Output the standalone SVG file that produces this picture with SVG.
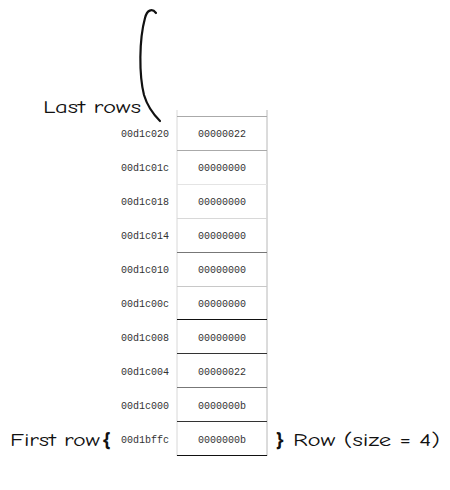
<svg xmlns="http://www.w3.org/2000/svg" width="450" height="490" viewBox="0 0 450 490">
<style>
.addr{font-family:"Liberation Mono","Courier New",monospace;font-size:10px;fill:#333;text-anchor:end}
.val{font-family:"Liberation Mono","Courier New",monospace;font-size:10px;fill:#333;text-anchor:middle}
.hand{font-family:"Comic Neue","Noto Sans","DejaVu Sans",sans-serif;font-size:18px;fill:#111}
.brace{font-family:"Noto Sans","DejaVu Sans",sans-serif;font-size:19px;font-weight:bold;fill:#111}
</style>
<rect width="450" height="490" fill="#fff"/>
<g id="connectors">
<path d="M156,13 C152,8 147,10 145,18 C139,40 139,75 144,95 C147,105 152,113 160,121" fill="none" stroke="#111" stroke-width="2.2" stroke-linecap="round"/>
</g>
<g id="table">
<line x1="177" y1="110" x2="177" y2="456" stroke="#d8d8d8"/>
<line x1="267" y1="110" x2="267" y2="456" stroke="#b8b8b8"/>
<line x1="177" y1="116.5" x2="267" y2="116.5" stroke="#aaa"/>
<line x1="177" y1="150.5" x2="267" y2="150.5" stroke="#aaa"/>
<line x1="177" y1="184.5" x2="267" y2="184.5" stroke="#e4e4e4"/>
<line x1="177" y1="218.5" x2="267" y2="218.5" stroke="#d8d8d8"/>
<line x1="177" y1="252.5" x2="267" y2="252.5" stroke="#777"/>
<line x1="177" y1="286.5" x2="267" y2="286.5" stroke="#c8c8c8"/>
<line x1="177" y1="319.5" x2="267" y2="319.5" stroke="#111"/>
<line x1="177" y1="353.5" x2="267" y2="353.5" stroke="#333"/>
<line x1="177" y1="387.5" x2="267" y2="387.5" stroke="#777"/>
<line x1="177" y1="421.5" x2="267" y2="421.5" stroke="#333"/>
<line x1="177" y1="455.5" x2="267" y2="455.5" stroke="#111"/>
</g>
<g id="row-00d1c020"><text class="addr" x="169" y="137">00d1c020</text><text class="val" x="222" y="137">00000022</text></g>
<g id="row-00d1c01c"><text class="addr" x="169" y="171">00d1c01c</text><text class="val" x="222" y="171">00000000</text></g>
<g id="row-00d1c018"><text class="addr" x="169" y="205">00d1c018</text><text class="val" x="222" y="205">00000000</text></g>
<g id="row-00d1c014"><text class="addr" x="169" y="239">00d1c014</text><text class="val" x="222" y="239">00000000</text></g>
<g id="row-00d1c010"><text class="addr" x="169" y="273">00d1c010</text><text class="val" x="222" y="273">00000000</text></g>
<g id="row-00d1c00c"><text class="addr" x="169" y="307">00d1c00c</text><text class="val" x="222" y="307">00000000</text></g>
<g id="row-00d1c008"><text class="addr" x="169" y="341">00d1c008</text><text class="val" x="222" y="341">00000000</text></g>
<g id="row-00d1c004"><text class="addr" x="169" y="375">00d1c004</text><text class="val" x="222" y="375">00000022</text></g>
<g id="row-00d1c000"><text class="addr" x="169" y="409">00d1c000</text><text class="val" x="222" y="409">0000000b</text></g>
<g id="row-00d1bffc"><text class="addr" x="169" y="443">00d1bffc</text><text class="val" x="222" y="443">0000000b</text></g>
<g id="label-last-rows"><text class="hand" x="43" y="113" textLength="98" lengthAdjust="spacingAndGlyphs">Last rows</text></g>
<g id="label-first-row"><text class="hand" x="10" y="446" textLength="90" lengthAdjust="spacingAndGlyphs">First row</text><text class="brace" x="103" y="446">{</text></g>
<g id="label-row-size"><text class="brace" x="276" y="446">}</text><text class="hand" x="293" y="446" textLength="147" lengthAdjust="spacingAndGlyphs">Row (size = 4)</text></g>
</svg>
